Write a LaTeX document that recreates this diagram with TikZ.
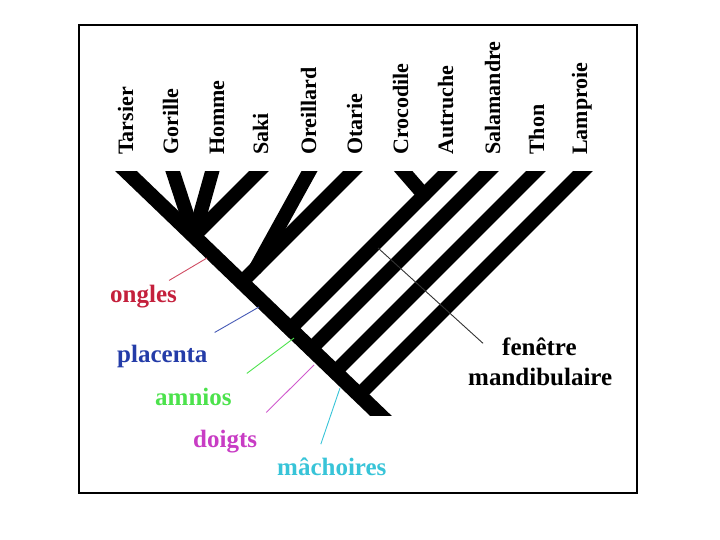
\documentclass[tikz,border=0pt]{standalone}
\usepackage{fontspec}
\setmainfont{Liberation Serif}
\usetikzlibrary{calc}
\definecolor{onglesred}{RGB}{196,32,60}
\definecolor{placblue}{RGB}{36,60,168}
\definecolor{amngreen}{RGB}{76,226,76}
\definecolor{doigmag}{RGB}{200,60,196}
\definecolor{machcyan}{RGB}{56,196,216}
\tikzset{
  branch/.style = {line width=14pt, line cap=round, shorten <=-24pt},
  trunk/.style  = {line width=15pt, shorten <=-24pt, shorten >=-24pt},
  taxon/.style  = {rotate=90, anchor=base west, inner sep=0pt,
                   font=\fontsize{22}{24}\selectfont\bfseries},
  trait/.style  = {anchor=base west, inner sep=0pt,
                   font=\fontsize{25}{27}\selectfont\bfseries},
  ptr/.style    = {line width=0.9pt}
}

\begin{document}
\begin{tikzpicture}[x=1pt, y=-1pt]
  \useasboundingbox (0,0) rectangle (720,540);

  % ── Frame ─────────────────────────────────────────────────────────────────
  \draw[line width=1.2pt] (79,25) rectangle (637,493);

  % ── Branch tops ───────────────────────────────────────────────────────────
  \coordinate (tTarsier)    at (127,172);
  \coordinate (tGorille)    at (173,172);
  \coordinate (tHomme)      at (212,172);
  \coordinate (tSaki)       at (258,172);
  \coordinate (tOreillard)  at (309,172);
  \coordinate (tOtarie)     at (352,172);
  \coordinate (tCrocodile)  at (404,172);
  \coordinate (tAutruche)   at (447,172);
  \coordinate (tSalamandre) at (488,172);
  \coordinate (tThon)       at (535,172);
  \coordinate (tLamproie)   at (582,172);

  % ── Junctions on the trunk ────────────────────────────────────────────────
  \coordinate (root)        at (380,415);
  \coordinate (jSaki)       at (194,236);
  \coordinate (jOtarie)     at (242,282);
  \coordinate (jAutruche)   at (290,329);
  \coordinate (jSalamandre) at (311,349);
  \coordinate (jThon)       at (335,372);
  \coordinate (jLamproie)   at (359,395);
  % forks off the trunk
  \coordinate (fOtarie)     at (256,268);
  \coordinate (fAutruche)   at (424,195);

  % ── Tree (cut flat at top and bottom) ─────────────────────────────────────
  \begin{scope}
    \clip (0,172) rectangle (720,415);
    \draw[trunk]  (tTarsier)    -- (root);
    \draw[branch] (tGorille)    -- (jSaki);
    \draw[branch] (tHomme)      -- (jSaki);
    \draw[branch] (tSaki)       -- (jSaki);
    \draw[branch] (tOreillard)  -- (fOtarie);
    \draw[branch] (tOtarie)     -- (jOtarie);
    \draw[branch] (tCrocodile)  -- (fAutruche);
    \draw[branch] (tAutruche)   -- (jAutruche);
    \draw[branch] (tSalamandre) -- (jSalamandre);
    \draw[branch] (tThon)       -- (jThon);
    \draw[branch] (tLamproie)   -- (jLamproie);
  \end{scope}

  % ── Taxa ──────────────────────────────────────────────────────────────────
  \node[taxon] (Tarsier)    at (133,155) {Tarsier};
  \node[taxon] (Gorille)    at (178,155) {Gorille};
  \node[taxon] (Homme)      at (224,155) {Homme};
  \node[taxon] (Saki)       at (268,155) {Saki};
  \node[taxon] (Oreillard)  at (316,155) {Oreillard};
  \node[taxon] (Otarie)     at (362,155) {Otarie};
  \node[taxon] (Crocodile)  at (408,155) {Crocodile};
  \node[taxon] (Autruche)   at (453,155) {Autruche};
  \node[taxon] (Salamandre) at (500,155) {Salamandre};
  \node[taxon] (Thon)       at (544,155) {Thon};
  \node[taxon] (Lamproie)   at (587,155) {Lamproie};

  % ── Characters ────────────────────────────────────────────────────────────
  \node[trait, text=onglesred] (ongles)    at (110,302) {ongles};
  \node[trait, text=placblue]  (placenta)  at (117,362) {placenta};
  \node[trait, text=amngreen]  (amnios)    at (155,405) {amnios};
  \node[trait, text=doigmag]   (doigts)    at (193,447) {doigts};
  \node[trait, text=machcyan]  (machoires) at (277,475) {mâchoires};
  \node[trait] (fenetre)  at (502,355) {fenêtre};
  \node[trait] (mandib)   at (468,385) {mandibulaire};

  % marks on the trunk
  \coordinate (mOngles)    at (207,258);
  \coordinate (mPlacenta)  at (259,307);
  \coordinate (mAmnios)    at (294,338);
  \coordinate (mDoigts)    at (314,365);
  \coordinate (mMachoires) at (340,388);
  \coordinate (mFenetre)   at (378,248);

  % ── Pointers ──────────────────────────────────────────────────────────────
  \draw[ptr, onglesred!80] ($(ongles.north east)+(-8,-4)$)   -- (mOngles);
  \draw[ptr, placblue!85]  ($(placenta.north east)+(7,-12)$) -- (mPlacenta);
  \draw[ptr, amngreen]     ($(amnios.north east)+(15,-14)$)  -- (mAmnios);
  \draw[ptr, doigmag!85]   ($(doigts.north east)+(9,-17)$)   -- (mDoigts);
  \draw[ptr, machcyan]     ($(machoires.north)+(-11,-13)$)   -- (mMachoires);
  \draw[ptr, black!80]     ($(fenetre.west)+(-19,-3)$)       -- (mFenetre);

\end{tikzpicture}
\end{document}
